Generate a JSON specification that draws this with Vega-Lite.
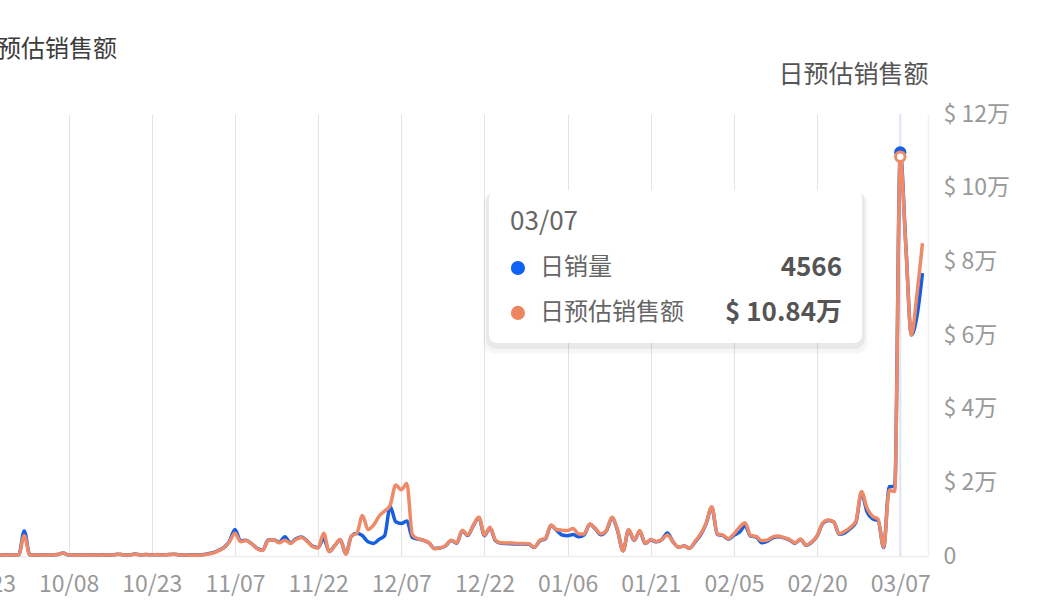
{
  "$schema": "https://vega.github.io/schema/vega-lite/v6.json",
  "width": 998,
  "height": 442,
  "autosize": {"type": "none"},
  "padding": {"left": -70, "top": 114, "right": 129, "bottom": 53},
  "background": "#ffffff",
  "config": {
    "font": "Noto Sans CJK SC",
    "view": {"stroke": null}
  },
  "title": {
    "text": "日预估销售额",
    "anchor": "start",
    "frame": "group",
    "dx": 43,
    "offset": 0,
    "fontSize": 24,
    "fontWeight": "normal",
    "color": "#3c3c3c"
  },
  "data": {
    "format": {"parse": {"date": "utc:'%Y-%m-%d'"}},
    "values": [
      {"date": "2024-09-13", "units": 12, "sales": 300},
      {"date": "2024-09-14", "units": 10, "sales": 200},
      {"date": "2024-09-15", "units": 13, "sales": 300},
      {"date": "2024-09-16", "units": 12, "sales": 300},
      {"date": "2024-09-17", "units": 15, "sales": 400},
      {"date": "2024-09-18", "units": 12, "sales": 300},
      {"date": "2024-09-19", "units": 10, "sales": 200},
      {"date": "2024-09-20", "units": 13, "sales": 300},
      {"date": "2024-09-21", "units": 12, "sales": 300},
      {"date": "2024-09-22", "units": 16, "sales": 400},
      {"date": "2024-09-23", "units": 12, "sales": 300},
      {"date": "2024-09-24", "units": 13, "sales": 300},
      {"date": "2024-09-25", "units": 10, "sales": 200},
      {"date": "2024-09-26", "units": 12, "sales": 300},
      {"date": "2024-09-27", "units": 13, "sales": 300},
      {"date": "2024-09-28", "units": 12, "sales": 300},
      {"date": "2024-09-29", "units": 13, "sales": 300},
      {"date": "2024-09-30", "units": 283, "sales": 5500},
      {"date": "2024-10-01", "units": 13, "sales": 300},
      {"date": "2024-10-02", "units": 12, "sales": 300},
      {"date": "2024-10-03", "units": 10, "sales": 200},
      {"date": "2024-10-04", "units": 13, "sales": 300},
      {"date": "2024-10-05", "units": 12, "sales": 300},
      {"date": "2024-10-06", "units": 16, "sales": 400},
      {"date": "2024-10-07", "units": 35, "sales": 800},
      {"date": "2024-10-08", "units": 12, "sales": 300},
      {"date": "2024-10-09", "units": 13, "sales": 300},
      {"date": "2024-10-10", "units": 10, "sales": 200},
      {"date": "2024-10-11", "units": 12, "sales": 300},
      {"date": "2024-10-12", "units": 13, "sales": 300},
      {"date": "2024-10-13", "units": 12, "sales": 300},
      {"date": "2024-10-14", "units": 10, "sales": 200},
      {"date": "2024-10-15", "units": 12, "sales": 300},
      {"date": "2024-10-16", "units": 13, "sales": 300},
      {"date": "2024-10-17", "units": 20, "sales": 500},
      {"date": "2024-10-18", "units": 12, "sales": 300},
      {"date": "2024-10-19", "units": 13, "sales": 300},
      {"date": "2024-10-20", "units": 22, "sales": 500},
      {"date": "2024-10-21", "units": 12, "sales": 300},
      {"date": "2024-10-22", "units": 16, "sales": 400},
      {"date": "2024-10-23", "units": 13, "sales": 300},
      {"date": "2024-10-24", "units": 15, "sales": 400},
      {"date": "2024-10-25", "units": 13, "sales": 300},
      {"date": "2024-10-26", "units": 16, "sales": 400},
      {"date": "2024-10-27", "units": 20, "sales": 500},
      {"date": "2024-10-28", "units": 13, "sales": 300},
      {"date": "2024-10-29", "units": 12, "sales": 300},
      {"date": "2024-10-30", "units": 10, "sales": 200},
      {"date": "2024-10-31", "units": 10, "sales": 200},
      {"date": "2024-11-01", "units": 14, "sales": 300},
      {"date": "2024-11-02", "units": 24, "sales": 500},
      {"date": "2024-11-03", "units": 38, "sales": 800},
      {"date": "2024-11-04", "units": 62, "sales": 1400},
      {"date": "2024-11-05", "units": 95, "sales": 2200},
      {"date": "2024-11-06", "units": 165, "sales": 3800},
      {"date": "2024-11-07", "units": 300, "sales": 6200},
      {"date": "2024-11-08", "units": 172, "sales": 3900},
      {"date": "2024-11-09", "units": 178, "sales": 4200},
      {"date": "2024-11-10", "units": 140, "sales": 3300},
      {"date": "2024-11-11", "units": 88, "sales": 2000},
      {"date": "2024-11-12", "units": 65, "sales": 1500},
      {"date": "2024-11-13", "units": 180, "sales": 4200},
      {"date": "2024-11-14", "units": 185, "sales": 4400},
      {"date": "2024-11-15", "units": 155, "sales": 3600},
      {"date": "2024-11-16", "units": 217, "sales": 4300},
      {"date": "2024-11-17", "units": 148, "sales": 3400},
      {"date": "2024-11-18", "units": 195, "sales": 4500},
      {"date": "2024-11-19", "units": 215, "sales": 5000},
      {"date": "2024-11-20", "units": 170, "sales": 4000},
      {"date": "2024-11-21", "units": 112, "sales": 2600},
      {"date": "2024-11-22", "units": 95, "sales": 2200},
      {"date": "2024-11-23", "units": 200, "sales": 6200},
      {"date": "2024-11-24", "units": 52, "sales": 1200},
      {"date": "2024-11-25", "units": 118, "sales": 2800},
      {"date": "2024-11-26", "units": 185, "sales": 4500},
      {"date": "2024-11-27", "units": 25, "sales": 500},
      {"date": "2024-11-28", "units": 225, "sales": 5400},
      {"date": "2024-11-29", "units": 258, "sales": 6200},
      {"date": "2024-11-30", "units": 230, "sales": 11000},
      {"date": "2024-12-01", "units": 160, "sales": 7200},
      {"date": "2024-12-02", "units": 142, "sales": 8400},
      {"date": "2024-12-03", "units": 188, "sales": 10800},
      {"date": "2024-12-04", "units": 230, "sales": 12200},
      {"date": "2024-12-05", "units": 558, "sales": 13800},
      {"date": "2024-12-06", "units": 388, "sales": 19300},
      {"date": "2024-12-07", "units": 368, "sales": 18000},
      {"date": "2024-12-08", "units": 396, "sales": 19700},
      {"date": "2024-12-09", "units": 210, "sales": 5800},
      {"date": "2024-12-10", "units": 192, "sales": 4700},
      {"date": "2024-12-11", "units": 178, "sales": 4300},
      {"date": "2024-12-12", "units": 148, "sales": 3600},
      {"date": "2024-12-13", "units": 85, "sales": 2000},
      {"date": "2024-12-14", "units": 90, "sales": 2200},
      {"date": "2024-12-15", "units": 115, "sales": 2800},
      {"date": "2024-12-16", "units": 175, "sales": 4300},
      {"date": "2024-12-17", "units": 145, "sales": 3600},
      {"date": "2024-12-18", "units": 285, "sales": 7000},
      {"date": "2024-12-19", "units": 232, "sales": 5700},
      {"date": "2024-12-20", "units": 345, "sales": 8400},
      {"date": "2024-12-21", "units": 432, "sales": 10500},
      {"date": "2024-12-22", "units": 230, "sales": 5700},
      {"date": "2024-12-23", "units": 318, "sales": 7800},
      {"date": "2024-12-24", "units": 172, "sales": 4300},
      {"date": "2024-12-25", "units": 143, "sales": 3600},
      {"date": "2024-12-26", "units": 140, "sales": 3500},
      {"date": "2024-12-27", "units": 138, "sales": 3500},
      {"date": "2024-12-28", "units": 135, "sales": 3400},
      {"date": "2024-12-29", "units": 136, "sales": 3400},
      {"date": "2024-12-30", "units": 132, "sales": 3300},
      {"date": "2024-12-31", "units": 98, "sales": 2400},
      {"date": "2025-01-01", "units": 172, "sales": 4300},
      {"date": "2025-01-02", "units": 195, "sales": 4800},
      {"date": "2025-01-03", "units": 345, "sales": 8400},
      {"date": "2025-01-04", "units": 292, "sales": 7200},
      {"date": "2025-01-05", "units": 238, "sales": 7000},
      {"date": "2025-01-06", "units": 230, "sales": 6900},
      {"date": "2025-01-07", "units": 242, "sales": 7500},
      {"date": "2025-01-08", "units": 218, "sales": 6000},
      {"date": "2025-01-09", "units": 240, "sales": 6000},
      {"date": "2025-01-10", "units": 358, "sales": 8700},
      {"date": "2025-01-11", "units": 305, "sales": 7500},
      {"date": "2025-01-12", "units": 240, "sales": 6000},
      {"date": "2025-01-13", "units": 285, "sales": 7000},
      {"date": "2025-01-14", "units": 430, "sales": 10500},
      {"date": "2025-01-15", "units": 290, "sales": 7100},
      {"date": "2025-01-16", "units": 58, "sales": 1400},
      {"date": "2025-01-17", "units": 295, "sales": 7200},
      {"date": "2025-01-18", "units": 176, "sales": 4300},
      {"date": "2025-01-19", "units": 280, "sales": 6900},
      {"date": "2025-01-20", "units": 140, "sales": 3400},
      {"date": "2025-01-21", "units": 182, "sales": 4500},
      {"date": "2025-01-22", "units": 160, "sales": 3900},
      {"date": "2025-01-23", "units": 185, "sales": 4500},
      {"date": "2025-01-24", "units": 260, "sales": 5700},
      {"date": "2025-01-25", "units": 160, "sales": 3900},
      {"date": "2025-01-26", "units": 100, "sales": 2400},
      {"date": "2025-01-27", "units": 112, "sales": 2700},
      {"date": "2025-01-28", "units": 88, "sales": 2100},
      {"date": "2025-01-29", "units": 160, "sales": 4000},
      {"date": "2025-01-30", "units": 240, "sales": 6000},
      {"date": "2025-01-31", "units": 370, "sales": 9000},
      {"date": "2025-02-01", "units": 550, "sales": 13400},
      {"date": "2025-02-02", "units": 245, "sales": 6000},
      {"date": "2025-02-03", "units": 232, "sales": 5700},
      {"date": "2025-02-04", "units": 190, "sales": 4700},
      {"date": "2025-02-05", "units": 235, "sales": 6000},
      {"date": "2025-02-06", "units": 270, "sales": 7800},
      {"date": "2025-02-07", "units": 342, "sales": 9000},
      {"date": "2025-02-08", "units": 225, "sales": 5600},
      {"date": "2025-02-09", "units": 215, "sales": 5300},
      {"date": "2025-02-10", "units": 150, "sales": 4200},
      {"date": "2025-02-11", "units": 165, "sales": 4300},
      {"date": "2025-02-12", "units": 205, "sales": 5200},
      {"date": "2025-02-13", "units": 218, "sales": 5400},
      {"date": "2025-02-14", "units": 205, "sales": 5000},
      {"date": "2025-02-15", "units": 182, "sales": 4500},
      {"date": "2025-02-16", "units": 145, "sales": 3600},
      {"date": "2025-02-17", "units": 188, "sales": 4600},
      {"date": "2025-02-18", "units": 122, "sales": 3000},
      {"date": "2025-02-19", "units": 155, "sales": 3800},
      {"date": "2025-02-20", "units": 225, "sales": 5500},
      {"date": "2025-02-21", "units": 365, "sales": 8900},
      {"date": "2025-02-22", "units": 402, "sales": 9800},
      {"date": "2025-02-23", "units": 385, "sales": 9300},
      {"date": "2025-02-24", "units": 245, "sales": 6000},
      {"date": "2025-02-25", "units": 262, "sales": 6700},
      {"date": "2025-02-26", "units": 310, "sales": 7800},
      {"date": "2025-02-27", "units": 380, "sales": 9500},
      {"date": "2025-02-28", "units": 715, "sales": 17500},
      {"date": "2025-03-01", "units": 500, "sales": 13000},
      {"date": "2025-03-02", "units": 420, "sales": 10800},
      {"date": "2025-03-03", "units": 400, "sales": 10000},
      {"date": "2025-03-04", "units": 95, "sales": 2400},
      {"date": "2025-03-05", "units": 783, "sales": 17900},
      {"date": "2025-03-06", "units": 790, "sales": 17500},
      {"date": "2025-03-07", "units": 4566, "sales": 108400},
      {"date": "2025-03-08", "units": 3520, "sales": 84000},
      {"date": "2025-03-09", "units": 2500, "sales": 60000},
      {"date": "2025-03-10", "units": 2710, "sales": 71000},
      {"date": "2025-03-11", "units": 3200, "sales": 84900}
    ]
  },
  "layer": [
    {
      "layer": [
        {
          "transform": [{"filter": "time(datum.date) == utc(2025, 2, 7)"}],
          "mark": {"type": "rule", "color": "#dfe3f4", "strokeWidth": 2},
          "encoding": {
            "x": {"field": "date", "type": "temporal"}
          }
        },
        {
          "mark": {"type": "line", "color": "#175fe0", "strokeWidth": 3.5, "interpolate": "monotone"},
          "encoding": {
            "x": {
              "field": "date",
              "type": "temporal",
              "scale": {
                "type": "utc",
                "domain": [
                  {"year": 2024, "month": 9, "date": 13, "utc": true},
                  {"year": 2025, "month": 3, "date": 12, "utc": true}
                ]
              },
              "axis": {
                "title": null,
                "format": "%m/%d",
                "values": [
                  {"year": 2024, "month": 9, "date": 23, "utc": true},
                  {"year": 2024, "month": 10, "date": 8, "utc": true},
                  {"year": 2024, "month": 10, "date": 23, "utc": true},
                  {"year": 2024, "month": 11, "date": 7, "utc": true},
                  {"year": 2024, "month": 11, "date": 22, "utc": true},
                  {"year": 2024, "month": 12, "date": 7, "utc": true},
                  {"year": 2024, "month": 12, "date": 22, "utc": true},
                  {"year": 2025, "month": 1, "date": 6, "utc": true},
                  {"year": 2025, "month": 1, "date": 21, "utc": true},
                  {"year": 2025, "month": 2, "date": 5, "utc": true},
                  {"year": 2025, "month": 2, "date": 20, "utc": true},
                  {"year": 2025, "month": 3, "date": 7, "utc": true}
                ],
                "grid": true,
                "gridColor": "#e4e4e4",
                "gridWidth": 1,
                "ticks": false,
                "domainColor": "#eeeeee",
                "domainWidth": 1.5,
                "labelFontSize": 23,
                "labelColor": "#999999",
                "labelPadding": 17,
                "labelFlush": false,
                "labelOverlap": false,
                "labelBound": false
              }
            },
            "y": {"field": "units", "type": "quantitative", "scale": {"domain": [0, 5000]}, "axis": null}
          }
        },
        {
          "transform": [{"filter": "time(datum.date) == utc(2025, 2, 7)"}],
          "mark": {"type": "circle", "color": "#175fe0", "size": 150, "opacity": 1},
          "encoding": {
            "x": {"field": "date", "type": "temporal"},
            "y": {"field": "units", "type": "quantitative", "scale": {"domain": [0, 5000]}, "axis": null}
          }
        }
      ]
    },
    {
      "layer": [
        {
          "mark": {"type": "line", "color": "#ee8a68", "strokeWidth": 3.5, "interpolate": "monotone"},
          "encoding": {
            "x": {"field": "date", "type": "temporal"},
            "y": {
              "field": "sales",
              "type": "quantitative",
              "scale": {"domain": [0, 120000]},
              "axis": {
                "orient": "right",
                "values": [0, 20000, 40000, 60000, 80000, 100000, 120000],
                "labelExpr": "datum.value == 0 ? '0' : '$ ' + datum.value / 10000 + '万'",
                "labelAlign": "left",
                "labelPadding": 15,
                "labelFontSize": 23,
                "labelColor": "#999999",
                "ticks": false,
                "grid": false,
                "domainColor": "#eef0f5",
                "domainWidth": 1.5,
                "title": "日预估销售额",
                "titleAngle": 0,
                "titleAlign": "right",
                "titleBaseline": "middle",
                "titleX": 0,
                "titleY": -40,
                "titleFontSize": 25,
                "titleFontWeight": "normal",
                "titleColor": "#555555"
              }
            }
          }
        },
        {
          "transform": [{"filter": "time(datum.date) == utc(2025, 2, 7)"}],
          "mark": {"type": "point", "filled": true, "fill": "#ffffff", "stroke": "#ee8a68", "strokeWidth": 3, "size": 90, "opacity": 1},
          "encoding": {
            "x": {"field": "date", "type": "temporal"},
            "y": {"field": "sales", "type": "quantitative"}
          }
        },
        {
          "data": {"values": [{"box": "shadow"}]},
          "mark": {"type": "rect", "color": "#000000", "opacity": 0.035, "cornerRadius": 11},
          "encoding": {
            "x": {"datum": {"year": 2024, "month": 12, "date": 21, "hours": 20, "utc": true}, "type": "temporal"},
            "x2": {"datum": {"year": 2025, "month": 3, "date": 1, "hours": 2, "utc": true}},
            "y": {"datum": 98700, "type": "quantitative"},
            "y2": {"datum": 55000}
          }
        },
        {
          "data": {"values": [{"box": "shadow"}]},
          "mark": {"type": "rect", "color": "#000000", "opacity": 0.05, "cornerRadius": 10},
          "encoding": {
            "x": {"datum": {"year": 2024, "month": 12, "date": 22, "hours": 7, "utc": true}, "type": "temporal"},
            "x2": {"datum": {"year": 2025, "month": 2, "date": 28, "hours": 15, "utc": true}},
            "y": {"datum": 99000, "type": "quantitative"},
            "y2": {"datum": 56200}
          }
        },
        {
          "data": {"values": [{"box": "tooltip"}]},
          "mark": {"type": "rect", "color": "#ffffff", "opacity": 1, "cornerRadius": 8},
          "encoding": {
            "x": {"datum": {"year": 2024, "month": 12, "date": 22, "hours": 20, "utc": true}, "type": "temporal"},
            "x2": {"datum": {"year": 2025, "month": 2, "date": 28, "hours": 2, "utc": true}},
            "y": {"datum": 99400, "type": "quantitative"},
            "y2": {"datum": 57800}
          }
        },
        {
          "data": {"values": [{"label": "03/07"}]},
          "mark": {"type": "text", "align": "left", "baseline": "middle", "fontSize": 26, "color": "#666666"},
          "encoding": {
            "x": {"datum": {"year": 2024, "month": 12, "date": 26, "hours": 15, "utc": true}, "type": "temporal"},
            "y": {"datum": 90700, "type": "quantitative"},
            "text": {"field": "label"}
          }
        },
        {
          "data": {"values": [{"series": "日销量"}]},
          "mark": {"type": "circle", "color": "#0d63f3", "size": 200, "opacity": 1},
          "encoding": {
            "x": {"datum": {"year": 2024, "month": 12, "date": 28, "hours": 1, "utc": true}, "type": "temporal"},
            "y": {"datum": 78200, "type": "quantitative"}
          }
        },
        {
          "data": {"values": [{"series": "日预估销售额"}]},
          "mark": {"type": "circle", "color": "#ec8562", "size": 200, "opacity": 1},
          "encoding": {
            "x": {"datum": {"year": 2024, "month": 12, "date": 28, "hours": 1, "utc": true}, "type": "temporal"},
            "y": {"datum": 66000, "type": "quantitative"}
          }
        },
        {
          "data": {"values": [{"label": "日销量"}]},
          "mark": {"type": "text", "align": "left", "baseline": "middle", "fontSize": 24, "color": "#666666"},
          "encoding": {
            "x": {"datum": {"year": 2025, "month": 1, "date": 1, "utc": true}, "type": "temporal"},
            "y": {"datum": 78200, "type": "quantitative"},
            "text": {"field": "label"}
          }
        },
        {
          "data": {"values": [{"label": "日预估销售额"}]},
          "mark": {"type": "text", "align": "left", "baseline": "middle", "fontSize": 24, "color": "#666666"},
          "encoding": {
            "x": {"datum": {"year": 2025, "month": 1, "date": 1, "utc": true}, "type": "temporal"},
            "y": {"datum": 66000, "type": "quantitative"},
            "text": {"field": "label"}
          }
        },
        {
          "data": {"values": [{"label": "4566"}]},
          "mark": {"type": "text", "align": "right", "baseline": "middle", "fontSize": 26, "fontWeight": "bold", "color": "#555555"},
          "encoding": {
            "x": {"datum": {"year": 2025, "month": 2, "date": 24, "hours": 12, "utc": true}, "type": "temporal"},
            "y": {"datum": 78200, "type": "quantitative"},
            "text": {"field": "label"}
          }
        },
        {
          "data": {"values": [{"label": "$ 10.84万"}]},
          "mark": {"type": "text", "align": "right", "baseline": "middle", "fontSize": 26, "fontWeight": "bold", "color": "#555555"},
          "encoding": {
            "x": {"datum": {"year": 2025, "month": 2, "date": 24, "hours": 12, "utc": true}, "type": "temporal"},
            "y": {"datum": 66000, "type": "quantitative"},
            "text": {"field": "label"}
          }
        }
      ]
    }
  ],
  "resolve": {"scale": {"y": "independent"}}
}
